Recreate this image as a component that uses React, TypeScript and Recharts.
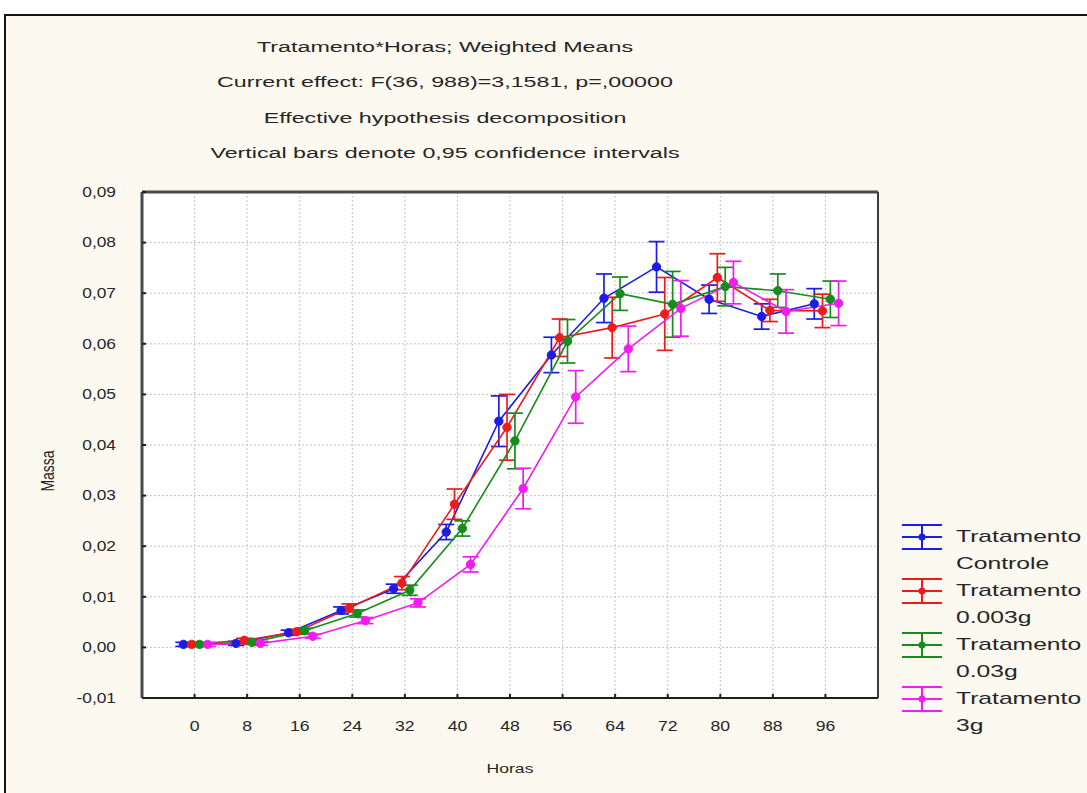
import React from 'react';
import { LineChart, Line, XAxis, YAxis, CartesianGrid, ErrorBar, Legend } from 'recharts';

// Sampling times (hours) and y-axis ticks
const hours = [0, 8, 16, 24, 32, 40, 48, 56, 64, 72, 80, 88, 96];
const massTicks = [-0.01, 0, 0.01, 0.02, 0.03, 0.04, 0.05, 0.06, 0.07, 0.08, 0.09];

// Weighted means of mass and half-width of the 0.95 confidence interval
const controleMean = [0.0006, 0.0008, 0.0029, 0.0073, 0.0116, 0.0228, 0.0447, 0.0578, 0.069, 0.0752, 0.0688, 0.0654, 0.0679];
const controleCI = [0.0004, 0.0004, 0.0005, 0.0007, 0.0009, 0.0015, 0.005, 0.0035, 0.0048, 0.005, 0.0028, 0.0025, 0.003];

const g0003Mean = [0.0006, 0.0014, 0.0031, 0.0078, 0.0127, 0.0283, 0.0435, 0.0612, 0.0632, 0.0659, 0.0731, 0.0666, 0.0665];
const g0003CI = [0.0004, 0.0004, 0.0005, 0.0008, 0.0013, 0.003, 0.0065, 0.0037, 0.006, 0.0072, 0.0047, 0.0022, 0.0033];

const g003Mean = [0.0006, 0.001, 0.0033, 0.0067, 0.0113, 0.0235, 0.0408, 0.0605, 0.0699, 0.0678, 0.0713, 0.0705, 0.0688];
const g003CI = [0.0004, 0.0004, 0.0005, 0.0007, 0.001, 0.0015, 0.0055, 0.0043, 0.0033, 0.0065, 0.0038, 0.0033, 0.0036];

const g3Mean = [0.0006, 0.0008, 0.0022, 0.0053, 0.0088, 0.0164, 0.0314, 0.0495, 0.059, 0.067, 0.0721, 0.0664, 0.068];
const g3CI = [0.0004, 0.0004, 0.0004, 0.0006, 0.0008, 0.0015, 0.004, 0.0052, 0.0045, 0.0055, 0.0042, 0.0043, 0.0044];

const seriesLabels = [
  ['Tratamento', 'Controle'],
  ['Tratamento', '0.003g'],
  ['Tratamento', '0.03g'],
  ['Tratamento', '3g'],
];
const seriesColors = ['#1c1ce8', '#ec1c1c', '#168c1c', '#f01cf0'];
// small horizontal shift (hours) per group so the intervals don't overlap
const hourOffsets = [-1.7, -0.45, 0.75, 2.0];

const titleLines = [
  'Tratamento*Horas; Weighted Means',
  'Current effect: F(36, 988)=3,1581, p=,00000',
  'Effective hypothesis decomposition',
  'Vertical bars denote 0,95 confidence intervals',
];

const means = [controleMean, g0003Mean, g003Mean, g3Mean];
const cis = [controleCI, g0003CI, g003CI, g3CI];

const series = means.map((m, k) => ({
  name: seriesLabels[k].join(' '),
  label: seriesLabels[k],
  color: seriesColors[k],
  data: hours.map((h, i) => ({ hora: h + hourOffsets[k], massa: m[i], ic: cis[k][i] })),
}));

const FONT = '"Liberation Sans", Arial, sans-serif';
const INK = '#262626';
const W = 1087;
const H = 793;

const fmtMass = (v: number) => v.toFixed(2).replace('.', ',');

const XTick = (props: any) => {
  const { x, y, payload } = props;
  return (
    <text
      transform={`translate(${x},${y}) scale(1.26,1)`}
      textAnchor="middle"
      dominantBaseline="central"
      fontSize={14}
      fontFamily={FONT}
      fill={INK}
    >
      {payload.value}
    </text>
  );
};

const YTick = (props: any) => {
  const { x, y, payload } = props;
  return (
    <text
      transform={`translate(${x},${y}) scale(1.24,1)`}
      textAnchor="end"
      dominantBaseline="central"
      fontSize={14}
      fontFamily={FONT}
      fill={INK}
    >
      {fmtMass(payload.value)}
    </text>
  );
};

const Stretch = ({ children, k, size }: any) => (
  <span
    style={{
      display: 'inline-block',
      transform: `scaleX(${k})`,
      transformOrigin: 'left center',
      fontSize: size,
      whiteSpace: 'nowrap',
    }}
  >
    {children}
  </span>
);

const LegendGlyph = ({ color }: { color: string }) => (
  <svg width={42} height={28} style={{ display: 'block' }}>
    <line x1={1} x2={41} y1={2} y2={2} stroke={color} strokeWidth={2} />
    <line x1={1} x2={41} y1={14} y2={14} stroke={color} strokeWidth={2} />
    <line x1={1} x2={41} y1={26} y2={26} stroke={color} strokeWidth={2} />
    <line x1={21} x2={21} y1={2} y2={26} stroke={color} strokeWidth={2} />
    <circle cx={21} cy={14} r={3.5} fill={color} />
  </svg>
);

const renderLegend = () => (
  <div style={{ fontFamily: FONT, color: INK }}>
    {series.map((s) => (
      <div key={s.name} style={{ position: 'relative', height: 54 }}>
        <div style={{ position: 'absolute', left: 0, top: 0 }}>
          <LegendGlyph color={s.color} />
        </div>
        <div style={{ position: 'absolute', left: 55, top: 4 }}>
          <div style={{ height: 20, lineHeight: '20px' }}>
            <Stretch k={1.45} size={17}>{s.label[0]}</Stretch>
          </div>
          <div style={{ height: 20, lineHeight: '20px', marginTop: 7 }}>
            <Stretch k={1.45} size={17}>{s.label[1]}</Stretch>
          </div>
        </div>
      </div>
    ))}
  </div>
);

export default function App() {
  return (
    <div
      style={{
        position: 'absolute',
        left: 0,
        top: 0,
        width: W,
        height: H,
        background: '#ffffff',
        overflow: 'hidden',
        fontFamily: FONT,
      }}
    >
      {/* graph window frame */}
      <div
        style={{
          position: 'absolute',
          left: 4,
          top: 14,
          right: 0,
          bottom: 0,
          borderTop: '2px solid #151515',
          borderLeft: '2px solid #151515',
          background: '#fcf9f0',
        }}
      />

      {/* title block */}
      {titleLines.map((t, i) => (
        <div
          key={t}
          style={{
            position: 'absolute',
            left: 445,
            top: 47 + i * 35.3,
            transform: 'translate(-50%, -50%) scaleX(1.5)',
            fontSize: 15.5,
            color: INK,
            whiteSpace: 'nowrap',
          }}
        >
          {t}
        </div>
      ))}

      <div style={{ position: 'absolute', left: 0, top: 0 }}>
        <LineChart
          width={W}
          height={H}
          margin={{ top: 191, right: 208, bottom: 65, left: 82 }}
        >
          <CartesianGrid
            stroke="#c2c2c2"
            strokeDasharray="2 2"
            fill="#ffffff"
            xAxisId={0}
            yAxisId={0}
          />
          <XAxis
            xAxisId={0}
            type="number"
            dataKey="hora"
            domain={[-8, 104]}
            ticks={hours}
            allowDataOverflow
            height={30}
            axisLine={{ stroke: '#1e1e1e', strokeWidth: 2 }}
            tickLine={{ stroke: '#1e1e1e', strokeWidth: 2 }}
            tickSize={-4}
            tickMargin={32}
            tick={<XTick />}
          />
          <XAxis
            xAxisId="top"
            orientation="top"
            type="number"
            domain={[-8, 104]}
            ticks={hours}
            allowDataOverflow
            height={1}
            axisLine={{ stroke: '#4a4a4a', strokeWidth: 3 }}
            tickLine={{ stroke: '#1e1e1e', strokeWidth: 2 }}
            tickSize={-4}
            tick={false}
          />
          <YAxis
            yAxisId={0}
            type="number"
            domain={[-0.01, 0.09]}
            ticks={massTicks}
            allowDataOverflow
            width={60}
            axisLine={{ stroke: '#4a4a4a', strokeWidth: 3 }}
            tickLine={{ stroke: '#1e1e1e', strokeWidth: 2 }}
            tickSize={-4}
            tickMargin={30}
            tick={<YTick />}
          />
          <YAxis
            yAxisId="right"
            orientation="right"
            type="number"
            domain={[-0.01, 0.09]}
            ticks={massTicks}
            allowDataOverflow
            width={1}
            axisLine={{ stroke: '#3a3a3a', strokeWidth: 2 }}
            tickLine={{ stroke: '#1e1e1e', strokeWidth: 2 }}
            tickSize={-4}
            tick={false}
          />
          {series.map((s) => (
            <Line
              key={s.name}
              name={s.name}
              data={s.data}
              dataKey="massa"
              type="linear"
              stroke={s.color}
              strokeWidth={1.6}
              dot={{ r: 4.2, fill: s.color, stroke: s.color, strokeWidth: 1 }}
              activeDot={false}
              isAnimationActive={false}
            >
              <ErrorBar dataKey="ic" direction="y" width={8} stroke={s.color} strokeWidth={1.7} />
            </Line>
          ))}
          <Legend
            layout="horizontal"
            verticalAlign="middle"
            align="center"
            content={renderLegend}
            wrapperStyle={{ left: 901, top: 523, width: 186 }}
          />
        </LineChart>
      </div>

      {/* axis titles */}
      <div
        style={{
          position: 'absolute',
          left: 47,
          top: 471,
          transform: 'translate(-50%, -50%) rotate(-90deg) scaleY(1.3)',
          fontSize: 14,
          color: INK,
          whiteSpace: 'nowrap',
        }}
      >
        Massa
      </div>
      <div
        style={{
          position: 'absolute',
          left: 510,
          top: 768,
          transform: 'translate(-50%, -50%) scaleX(1.3)',
          fontSize: 13.5,
          color: INK,
          whiteSpace: 'nowrap',
        }}
      >
        Horas
      </div>
    </div>
  );
}
